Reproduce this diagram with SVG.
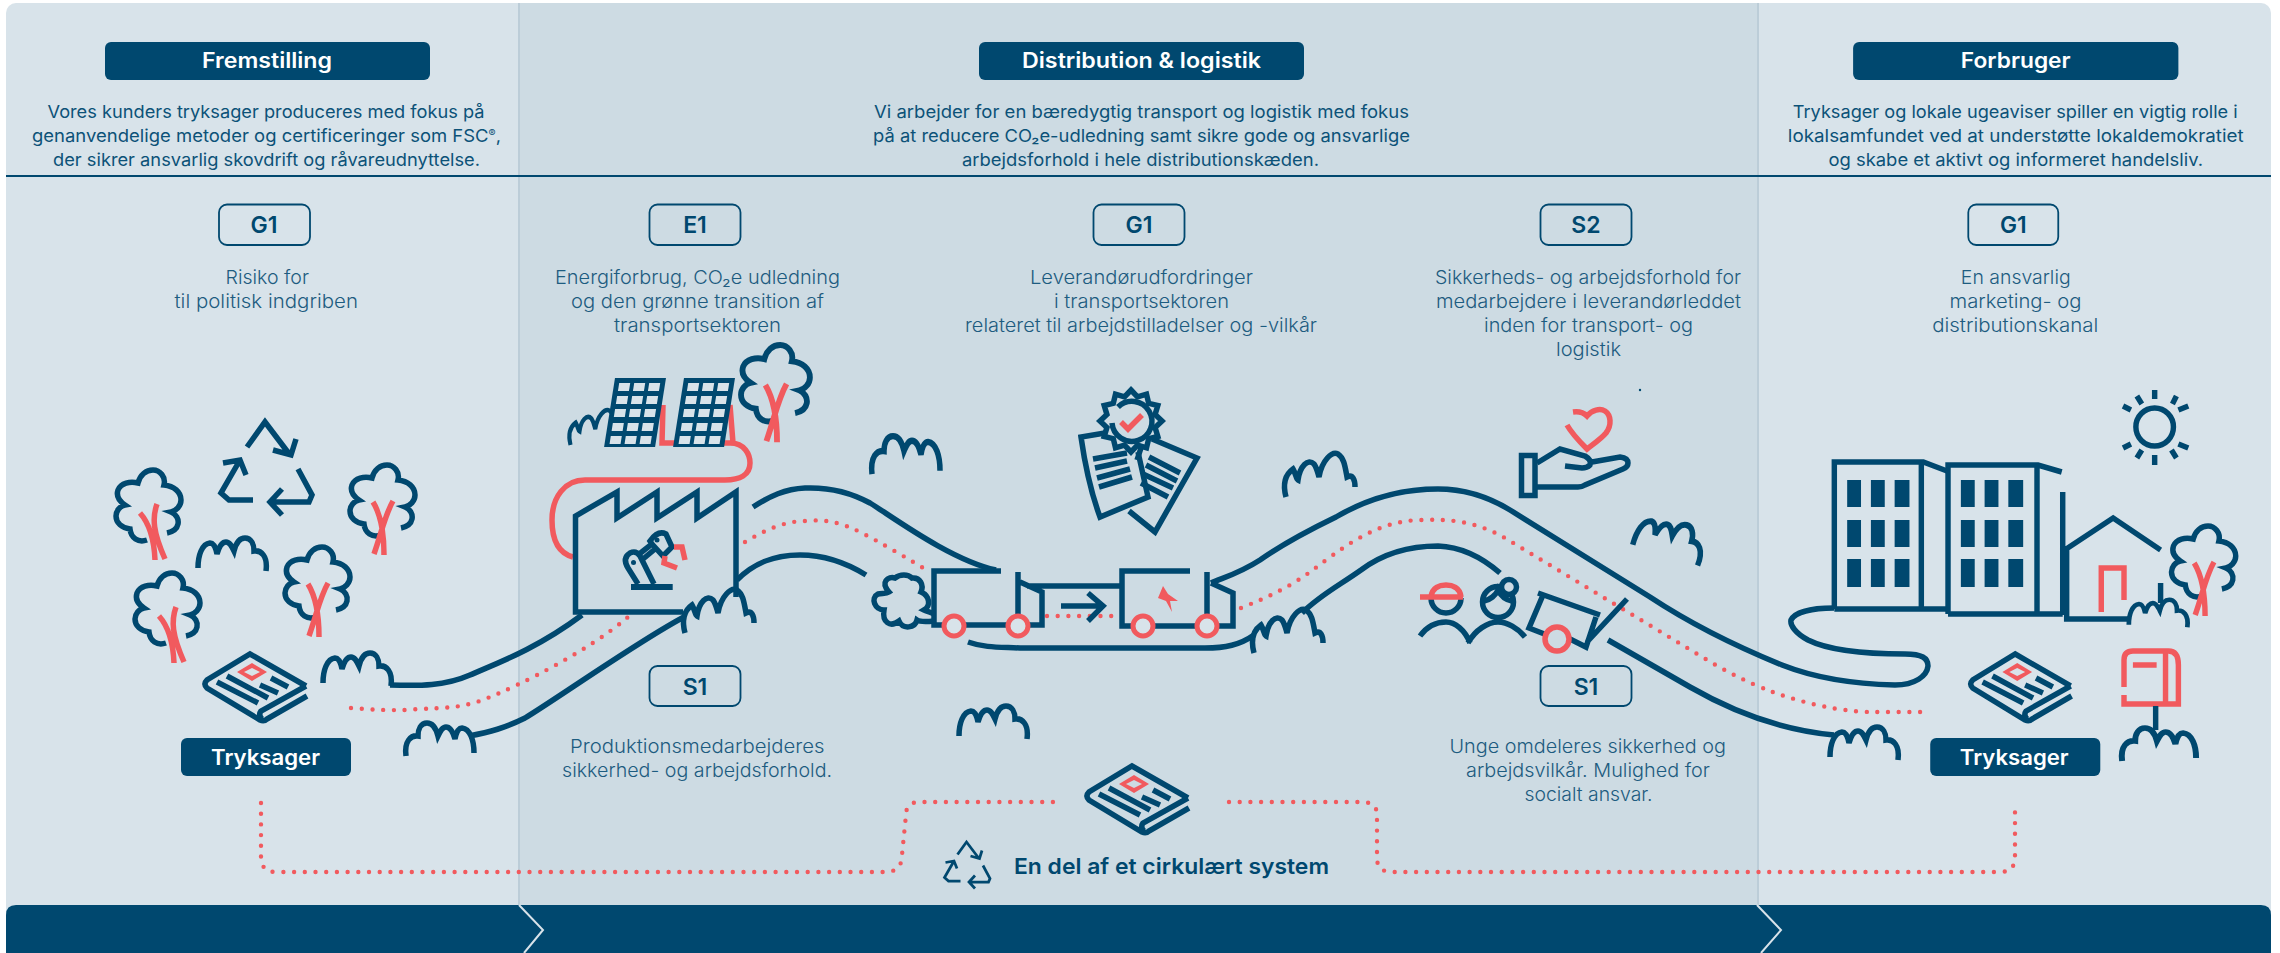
<svg xmlns="http://www.w3.org/2000/svg" width="2280" height="953" viewBox="0 0 2280 953">
<style>
.l{fill:none;stroke:#00486f;stroke-width:5.5}
.r{fill:none;stroke:#f15a5e;stroke-width:5.5}
.d{fill:none;stroke:#f15a5e;stroke-width:4.4;stroke-linecap:round;stroke-dasharray:0 10.7}
.f{fill:#00486f}
text{font-family:"Inter","Liberation Sans",sans-serif;fill:#00486f}
.h{fill:#fff;font-size:21px;font-weight:600}
.b{font-size:23px;font-weight:600}
.p{font-size:17.5px;font-weight:400;fill:#0c5278}
.t{font-size:18.5px;font-weight:300;fill:#1d5c80}
.box{fill:none;stroke:#00486f;stroke-width:1.8}
.win{fill:#00486f}
</style>
<defs>
<path id="bush" class="l" d="M1,31C1,18 5,7 13,6C17,6 19,12 20,17C22,10 25,5 29,5C33,5 35,10 37,14C39,6 43,1 48,1C54,1 57,7 57,14C64,13 71,19 69,34"/>
<path id="bush2" class="l" d="M2,45C-2,30 2,22 9,17C12,22 12,27 14,28C16,14 24,6 30,12C33,16 34,22 35,25C38,8 48,-1 54,2C60,6 61,14 63,25C69,22 71,28 71,35"/>
<path id="crown" class="l" d="M31,70C22,73 15,68 14,59C6,58 0,53 0,46C0,41 4,36 9,35C3,31 0,26 2,20C5,13 14,11 22,13C24,5 30,0 37,0C44,0 50,7 48,15C58,16 65,22 65,30C65,36 60,41 55,42C60,44 63,49 62,54C61,59 56,62 51,63"/>
<g id="treeA"><use href="#crown"/><path class="r" stroke-width="6" d="M24,43C32,52 38,66 39,90M41,34C36,48 37,62 49,89"/></g>
<g id="treeB"><use href="#crown"/><path class="r" stroke-width="6" d="M23,37C31,50 34,66 34,90M43,36C35,50 32,66 24,89"/></g>
<g id="paper">
<path class="l" d="M102,33L46,1L3,27Q-1,31 3,35L56,67Q60,69 63,66L103,43M102,33L57,58Q54,62 58,66"/>
<path class="l" d="M23,23L64,45M13,29L54,50M56,32L74,40M67,25L84,34" stroke-width="5"/>
<path fill="#f15a5e" fill-rule="evenodd" d="M48,10L63,19L48,28L33,19ZM48,15L40,19L48,23L56,19Z"/>
</g>
<g id="recycle">
<path class="l" d="M27,27L45,2L70,35M53,30L71,35L76,19"/>
<path class="l" d="M33,80L9,80L1,73L20,40M3,43L20,40L26,55"/>
<path class="l" d="M78,49L92,75L89,82L52,82M62,69L50,82L62,95"/>
</g>
<g id="panel"><rect x="0" y="0" width="51" height="69" class="f"/>
<g fill="#d8e3ea"><rect x="5" y="5" width="11" height="8"/><rect x="20" y="5" width="11" height="8"/><rect x="35" y="5" width="11" height="8"/>
<rect x="5" y="18" width="11" height="8"/><rect x="20" y="18" width="11" height="8"/><rect x="35" y="18" width="11" height="8"/>
<rect x="5" y="31" width="11" height="8"/><rect x="20" y="31" width="11" height="8"/><rect x="35" y="31" width="11" height="8"/>
<rect x="5" y="45" width="11" height="8"/><rect x="20" y="45" width="11" height="8"/><rect x="35" y="45" width="11" height="8"/>
<rect x="5" y="58" width="11" height="8"/><rect x="20" y="58" width="11" height="8"/><rect x="35" y="58" width="11" height="8"/></g></g>
<g id="wins" class="win"><rect x="0" y="0" width="14" height="27"/><rect x="24" y="0" width="14" height="27"/><rect x="48" y="0" width="15" height="27"/>
<rect x="0" y="40" width="14" height="27"/><rect x="24" y="40" width="14" height="27"/><rect x="48" y="40" width="15" height="27"/>
<rect x="0" y="79" width="14" height="28"/><rect x="24" y="79" width="14" height="28"/><rect x="48" y="79" width="15" height="28"/></g>
</defs>

<g id="background">
<rect x="6" y="3" width="2265" height="930" rx="10" fill="#d8e3ea"/>
<rect x="519" y="3" width="1239" height="905" fill="#cddbe3"/>
<path d="M519,3V905M1758,3V905" stroke="#bccdd8" stroke-width="2" fill="none"/>
<path d="M6,176H2271" stroke="#00486f" stroke-width="2" fill="none"/>
<path class="f" d="M6,953V915Q6,905 16,905H2261Q2271,905 2271,915V953Z"/>
<path d="M519,905L543,930L524,953M1757,905L1781,930L1761,953" fill="none" stroke="#d8e3ea" stroke-width="2"/>
</g>

<g id="connectors">
<path class="l" d="M390,685C420,686 445,686 470,675C495,664 535,650 582,615"/>
<path class="l" d="M469,736C490,732 505,728 525,718C555,700 640,640 684,617"/>
<path class="l" d="M753,507C770,496 785,489 805,488C830,487 850,492 870,503C890,515 950,560 996,570"/>
<path class="l" d="M737,580C755,562 775,555 800,555C825,555 845,562 866,575"/>
<path class="l" d="M968,642C985,648 1000,647 1020,648L1205,648C1225,648 1240,645 1254,635"/>
<path class="l" d="M1211,583C1225,577 1240,573 1260,560C1280,546 1305,532 1336,517C1365,500 1400,489 1438,489C1465,489 1487,496 1510,510L1650,597C1700,630 1750,652 1782,665C1815,678 1855,684 1895,685C1915,685 1927,676 1928,666C1928,658 1922,654 1905,654C1870,654 1830,651 1808,640C1795,633 1790,625 1791,620C1795,612 1812,608 1834,608"/>
<path class="l" d="M1302,613C1320,595 1340,585 1361,570C1385,552 1410,546 1438,546C1465,547 1485,560 1500,573"/>
<path class="l" d="M1608,640L1690,687C1730,710 1780,730 1834,735"/>
<path class="d" d="M351,708C375,710 400,711 418,709C445,708 465,708 490,697C520,685 590,650 628,617"/>
<path class="d" d="M745,542C765,530 785,521 805,521C825,519 840,522 860,532C880,542 910,560 930,572"/>
<path class="d" d="M1047,616H1112"/>
<path class="d" d="M1241,608C1265,598 1285,590 1310,572C1340,550 1375,520 1422,520C1450,519 1475,521 1505,538L1704,658C1740,680 1770,692 1791,698C1820,707 1850,712 1873,712H1930"/>
<path class="d" d="M261,803V857Q261,872 276,872H885Q902,872 902,855L906,815Q906,802 920,802H1054"/>
<path class="d" d="M1229,802H1362Q1377,802 1377,815V858Q1377,872 1392,872H2000Q2015,872 2015,857V803"/>
</g>

<g id="fremstilling-head"><rect x="105" y="42" width="325" height="38" rx="6" class="f"/>
<text class="h" x="202" y="68" textLength="130" lengthAdjust="spacingAndGlyphs">Fremstilling</text>
<text class="p" x="47.500" y="118" textLength="437" lengthAdjust="spacingAndGlyphs">Vores kunders tryksager produceres med fokus på</text>
<text class="p" x="32" y="142" textLength="469" lengthAdjust="spacingAndGlyphs">genanvendelige metoder og certificeringer som FSC<tspan font-size="10" dy="-5">®</tspan><tspan dy="5">,</tspan></text>
<text class="p" x="53" y="166" textLength="427" lengthAdjust="spacingAndGlyphs">der sikrer ansvarlig skovdrift og råvareudnyttelse.</text></g>
<g id="distribution-head"><rect x="979" y="42" width="325" height="38" rx="6" class="f"/>
<text class="h" x="1022" y="68" textLength="239" lengthAdjust="spacingAndGlyphs">Distribution &amp; logistik</text>
<text class="p" x="874" y="118" textLength="535" lengthAdjust="spacingAndGlyphs">Vi arbejder for en bæredygtig transport og logistik med fokus</text>
<text class="p" x="873" y="142" textLength="537" lengthAdjust="spacingAndGlyphs">på at reducere CO₂e-udledning samt sikre gode og ansvarlige</text>
<text class="p" x="962" y="166" textLength="357" lengthAdjust="spacingAndGlyphs">arbejdsforhold i hele distributionskæden.</text></g>
<g id="forbruger-head" transform="translate(18.08,0) scale(.9887,1)"><rect x="1856" y="42" width="329" height="38" rx="6" class="f"/>
<text class="h" x="1965" y="68" textLength="111" lengthAdjust="spacingAndGlyphs">Forbruger</text>
<text class="p" x="1795" y="118" textLength="450" lengthAdjust="spacingAndGlyphs">Tryksager og lokale ugeaviser spiller en vigtig rolle i</text>
<text class="p" x="1790" y="142" textLength="461" lengthAdjust="spacingAndGlyphs">lokalsamfundet ved at understøtte lokaldemokratiet</text>
<text class="p" x="1831" y="166" textLength="379" lengthAdjust="spacingAndGlyphs">og skabe et aktivt og informeret handelsliv.</text></g>

<g id="g1-left"><rect class="box" x="219" y="204.500" width="91" height="40.500" rx="8"/><text class="b" x="264" y="233" text-anchor="middle">G1</text>
<text class="t" x="225.500" y="284" textLength="83.500" lengthAdjust="spacingAndGlyphs">Risiko for</text>
<text class="t" x="174.500" y="308" textLength="183.500" lengthAdjust="spacingAndGlyphs">til politisk indgriben</text></g>
<g id="e1"><rect class="box" x="649.500" y="204.500" width="91" height="40.500" rx="8"/><text class="b" x="695" y="233" text-anchor="middle">E1</text>
<text class="t" x="555" y="284" textLength="285" lengthAdjust="spacingAndGlyphs">Energiforbrug, CO₂e udledning</text>
<text class="t" x="571" y="308" textLength="253" lengthAdjust="spacingAndGlyphs">og den grønne transition af</text>
<text class="t" x="614" y="332" textLength="167" lengthAdjust="spacingAndGlyphs">transportsektoren</text></g>
<g id="g1-mid"><rect class="box" x="1093.500" y="204.500" width="91" height="40.500" rx="8"/><text class="b" x="1139" y="233" text-anchor="middle">G1</text>
<text class="t" x="1030" y="284" textLength="223" lengthAdjust="spacingAndGlyphs">Leverandørudfordringer</text>
<text class="t" x="1054" y="308" textLength="175" lengthAdjust="spacingAndGlyphs">i transportsektoren</text>
<text class="t" x="965" y="332" textLength="352" lengthAdjust="spacingAndGlyphs">relateret til arbejdstilladelser og -vilkår</text></g>
<g id="s2"><rect class="box" x="1540.500" y="204.500" width="91" height="40.500" rx="8"/><text class="b" x="1586" y="233" text-anchor="middle">S2</text>
<text class="t" x="1435" y="284" textLength="306" lengthAdjust="spacingAndGlyphs">Sikkerheds- og arbejdsforhold for</text>
<text class="t" x="1436" y="308" textLength="305" lengthAdjust="spacingAndGlyphs">medarbejdere i leverandørleddet</text>
<text class="t" x="1484" y="332" textLength="209" lengthAdjust="spacingAndGlyphs">inden for transport- og</text>
<text class="t" x="1556" y="356" textLength="65" lengthAdjust="spacingAndGlyphs">logistik</text>
<circle cx="1640" cy="390" r="1.200" class="f"/></g>
<g id="g1-right" transform="translate(18.08,0) scale(.9887,1)"><rect class="box" x="1972.500" y="204.500" width="91" height="40.500" rx="8"/><text class="b" x="2018" y="233" text-anchor="middle">G1</text>
<text class="t" x="1965" y="284" textLength="111" lengthAdjust="spacingAndGlyphs">En ansvarlig</text>
<text class="t" x="1953.500" y="308" textLength="133.500" lengthAdjust="spacingAndGlyphs">marketing- og</text>
<text class="t" x="1936" y="332" textLength="168" lengthAdjust="spacingAndGlyphs">distributionskanal</text></g>
<g id="s1-left"><rect class="box" x="649.500" y="666" width="91" height="40" rx="8"/><text class="b" x="695" y="695" text-anchor="middle">S1</text>
<text class="t" x="570" y="753" textLength="254.500" lengthAdjust="spacingAndGlyphs">Produktionsmedarbejderes</text>
<text class="t" x="562" y="777" textLength="270" lengthAdjust="spacingAndGlyphs">sikkerhed- og arbejdsforhold.</text></g>
<g id="s1-right"><rect class="box" x="1540.500" y="666" width="91" height="40" rx="8"/><text class="b" x="1586" y="695" text-anchor="middle">S1</text>
<text class="t" x="1449.500" y="753" textLength="276.500" lengthAdjust="spacingAndGlyphs">Unge omdeleres sikkerhed og</text>
<text class="t" x="1466" y="777" textLength="244" lengthAdjust="spacingAndGlyphs">arbejdsvilkår. Mulighed for</text>
<text class="t" x="1524.500" y="801" textLength="128" lengthAdjust="spacingAndGlyphs">socialt ansvar.</text></g>

<g id="tryksager-left"><use href="#paper" x="204" y="653"/><rect x="181" y="738" width="170" height="38" rx="6" class="f"/>
<text class="h" x="211" y="765" textLength="109" lengthAdjust="spacingAndGlyphs">Tryksager</text></g>
<g id="tryksager-right" transform="translate(18.08,0) scale(.9887,1)"><use href="#paper" x="1974" y="653"/><rect x="1934" y="738" width="172" height="38" rx="6" class="f"/>
<text class="h" x="1964" y="765" textLength="110" lengthAdjust="spacingAndGlyphs">Tryksager</text></g>
<g id="circular"><use href="#paper" x="1086" y="765"/>
<use href="#recycle" transform="translate(944,841) scale(0.5)"/>
<text x="1014" y="874" font-size="22" font-weight="600" textLength="315" lengthAdjust="spacingAndGlyphs">En del af et cirkulært system</text></g>

<g id="forest">
<use href="#recycle" x="220" y="420"/>
<use href="#treeA" x="116" y="470"/><use href="#treeB" x="350" y="465"/><use href="#treeB" x="285" y="547"/><use href="#treeA" x="135" y="573"/>
<use href="#bush" x="197" y="537"/><use href="#bush" x="322" y="652"/><use href="#bush" transform="translate(475,722) scale(-1,1)"/>
</g>

<g id="factory">
<use href="#treeB" transform="translate(741,345) scale(1.06,1.08)"/>
<use href="#bush2" transform="translate(569,409) scale(0.75,0.8)"/>
<path class="r" d="M663,405L662,443H730C745,443 750,455 750,463C750,475 740,480 725,480H585C565,480 552,497 552,520C552,540 558,553 573,557M730,405L733,443"/>
<use href="#panel" transform="translate(615,378) skewX(-9)"/>
<use href="#panel" transform="translate(684,378) skewX(-9)"/>
<path class="l" d="M683,612H575.500V516L617,492V518L657,492V518L697,492V518L736,492V597"/>
<rect x="631" y="584" width="41.700" height="6" class="f"/>
<path class="l" stroke-width="4" d="M638,584L628,568Q622,558 630,553Q636,550 640,556L654,584M638,555L652,544L650,541Q658,530 666,534L672,547L663,556L652,544M643,559L655,549"/>
<circle cx="633.500" cy="562.500" r="2.500" class="f"/><circle cx="657" cy="540" r="2.500" class="f"/>
<path class="r" stroke-width="4.500" d="M674,547H682L685,560M665,556L664,563L677,568"/>
<use href="#bush2" transform="translate(683,588)"/>
</g>

<g id="bushes">
<use href="#bush" transform="translate(941,435) scale(-1,1.15)"/>
<use href="#bush2" transform="translate(1284,452)"/>
<use href="#bush" x="958" y="705"/>
<use href="#bush2" transform="translate(1252,608)"/>
<use href="#bush" transform="translate(1635,520) rotate(15 35 17) scale(1,1.1)"/>
<use href="#bush" x="1829" y="726"/>
</g>

<g id="truck1">
<path class="l" d="M934,621C925,622 920,622 917,620C915,628 903,630 899,621C890,628 882,622 884,610C875,610 870,598 878,594C882,593 886,594 889,592C880,582 888,576 895,578C900,574 908,574 912,578C920,577 924,585 921,592C930,596 931,606 924,610C928,612 931,612 934,614"/>
<path class="l" d="M1001,571H934V625H1042V592L1020,582M1018,572V625M1027,586H1121"/>
<path class="l" d="M1061,606H1102M1088,593L1103,606L1088,621"/>
<circle cx="954" cy="626" r="10" fill="#d8e3ea" stroke="#f15a5e" stroke-width="5"/><circle cx="1018" cy="626" r="10" fill="#d8e3ea" stroke="#f15a5e" stroke-width="5"/>
</g>
<g id="truck2">
<path class="l" d="M1190,571H1122V626H1233V593L1211,583M1207,572V625"/>
<path fill="#f15a5e" d="M1163,586L1158,598L1166,601L1172,612L1170,601L1178,601L1168,594Z"/>
<circle cx="1143" cy="626" r="10" fill="#d8e3ea" stroke="#f15a5e" stroke-width="5"/><circle cx="1207" cy="626" r="10" fill="#d8e3ea" stroke="#f15a5e" stroke-width="5"/>
</g>
<g id="documents">
<path class="l" d="M1105,433L1081,437C1085,465 1090,490 1100,517L1148,497L1138,452"/>
<path class="l" d="M1152,439L1197,458L1155,532L1129,511"/>
<path class="l" stroke-width="4.500" d="M1093,459L1127,453M1095,468L1127,461M1097,478L1130,469M1099,487L1132,477M1149,457L1180,473M1146,465L1177,481M1143,474L1173,488M1141,483L1168,497M1141,448L1137,460"/>
<path class="l" style="fill:#cddbe3" d="M1131,390L1137.500,396.900L1146.500,394.200L1148.700,403.300L1157.800,405.500L1155.100,414.500L1162,421L1155.100,427.500L1157.800,436.500L1148.700,438.700L1146.500,447.800L1137.500,445.100L1131,452L1124.500,445.100L1115.500,447.800L1113.300,438.700L1104.200,436.500L1106.900,427.500L1100,421L1106.900,414.500L1104.200,405.500L1113.300,403.300L1115.500,394.200L1124.500,396.900Z"/>
<path class="l" stroke-width="4" d="M1118,407A20,20 0 1 1 1112,423"/>
<path class="r" stroke-width="4.500" d="M1121,422L1128,429L1142,415"/>
</g>
<g id="hand">
<path class="r" d="M1573,412C1580,411 1584,413 1587,416C1592,410 1600,408 1605,411C1611,415 1612,425 1606,433C1601,439 1592,445 1587,449C1580,442 1572,434 1567,425"/>
<rect x="1521.500" y="455.500" width="13.500" height="40" class="l"/>
<path class="l" d="M1537,463L1560,449L1585,456Q1592,460 1590,465Q1587,468 1582,468L1565,466M1592,462L1620,457Q1628,458 1628,463Q1628,467 1623,469L1585,485Q1582,487 1578,487H1533"/>
</g>
<g id="people">
<path class="l" stroke-width="4.500" d="M1431,598A15,15 0 0 0 1461,598"/>
<circle cx="1498" cy="602" r="15.500" class="l" stroke-width="4.500"/>
<circle cx="1509" cy="587" r="7.500" class="l" stroke-width="4.500" style="fill:#cddbe3"/>
<path class="l" stroke-width="4" d="M1484,601C1490,600 1496,595 1498,590C1501,596 1506,600 1512,601"/>
<path class="l" d="M1420,636C1428,625 1438,622 1446,622C1455,622 1465,630 1470,643M1468,643C1475,630 1488,622 1498,622C1507,622 1518,628 1525,637"/>
<path class="r" stroke-width="4.500" d="M1431,597C1432,587 1440,585 1446,585C1452,585 1460,587 1461,597"/>
<path class="r" d="M1420,597H1463"/>
</g>
<g id="moped">
<path class="l" d="M1538,593L1600,615M1543,595L1529,628L1547,635M1570,639L1586,647L1596,617M1627,599L1587,642"/>
<circle cx="1557" cy="639" r="12" fill="#cddbe3" stroke="#f15a5e" stroke-width="5.500"/>
</g>
<g id="city" transform="translate(18.08,0) scale(.9887,1)">
<path class="l" d="M1837,609V462H1927L1951,471M1925,462V609M1837,609H1951M2068,492V615M2070,550L2119,518L2167,550M2072,550V619H2135M2167,583V603"/>
<path class="l" d="M1952,614V465H2043L2067,472M2042,465V614M1952,614H2068"/>
<use href="#wins" x="1850" y="480"/><use href="#wins" x="1965" y="480"/>
<path class="r" d="M2107,612V568H2130V600"/>
<use href="#bush" transform="translate(2134,599) scale(0.87,0.83)"/>
<use href="#treeB" x="2178" y="526"/>
</g>
<g id="sun" transform="translate(18.08,0) scale(.9887,1)">
<circle cx="2161" cy="427" r="19" class="l"/>
<path class="l" d="M2161,390V399M2161,455V465M2183,396L2179,404M2143,396L2148,404M2137,410L2129,406M2185,410L2195,406M2137,444L2129,448M2185,444L2195,448M2183,458L2178,450M2143,458L2148,450"/>
</g>
<g id="mailbox" transform="translate(18.08,0) scale(.9887,1)">
<path class="r" d="M2130,687V660Q2130,651 2139,651H2175Q2185,651 2185,665V704H2130V695M2172,651V704M2139,665H2163"/>
<path class="l" d="M2162,706V730"/>
<use href="#bush" transform="translate(2204,727) scale(-1.1,1)"/>
</g>
</svg>
